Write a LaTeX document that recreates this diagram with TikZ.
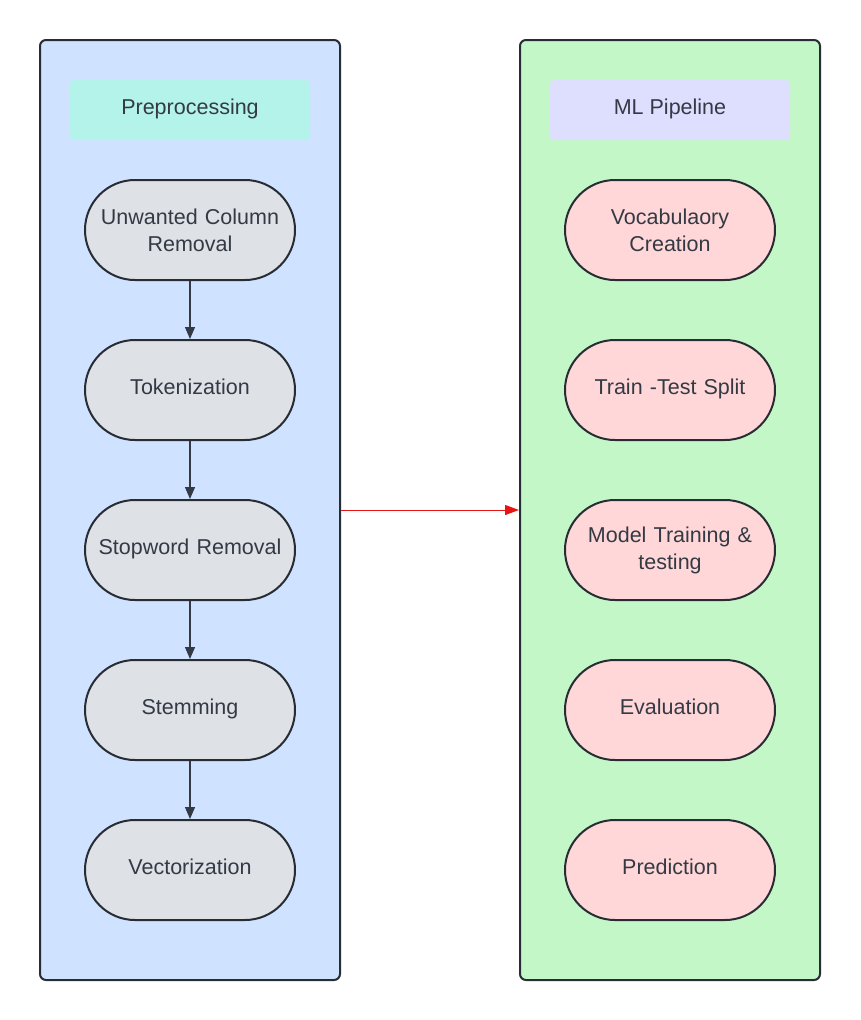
\documentclass[tikz,border=0pt]{standalone}
\usepackage{fontspec}
\setmainfont{Liberation Sans}
\usetikzlibrary{arrows.meta}
\definecolor{edgegray}{HTML}{282C33}
\definecolor{textgray}{HTML}{333A44}
\definecolor{prepblue}{HTML}{CFE2FF}
\definecolor{mlgreen}{HTML}{C3F7C8}
\definecolor{headteal}{HTML}{B4F3EA}
\definecolor{headlilac}{HTML}{DEDEFF}
\definecolor{stepgray}{HTML}{DEE1E6}
\definecolor{steppink}{HTML}{FFD7D8}
\definecolor{linkred}{HTML}{E81313}
\begin{document}
\begin{tikzpicture}[x=1pt, y=-1pt,
    container/.style={draw=edgegray, line width=2pt, rounded corners=6pt,
        minimum width=300pt, minimum height=940pt, inner sep=0pt},
    header/.style={rounded corners=4pt, minimum width=240pt, minimum height=60pt,
        text=textgray, font=\fontsize{21.5}{27}\selectfont,
        text height=12pt, text depth=4pt},
    stage/.style={draw=edgegray, line width=2pt, rounded corners=50pt,
        minimum width=210pt, minimum height=100pt, text width=200pt, align=center,
        text=textgray, font=\fontsize{21.5}{27}\selectfont},
    oneline/.style={text height=12pt, text depth=4pt},
    flow/.style={-{Triangle[length=12pt,width=10pt]}, draw=textgray, line width=1.3pt}]
    \useasboundingbox (0,0) rectangle (860,1020);

    % the two containers
    \node[container, fill=prepblue] (prepbox) at (190,510) {};
    \node[container, fill=mlgreen] (mlbox) at (670,510) {};

    % headers
    \node[header, fill=headteal] (prephead) at (190,110) {Preprocessing};
    \node[header, fill=headlilac] (mlhead) at (670,110) {ML Pipeline};

    % preprocessing steps
    \node[stage, fill=stepgray] (unwanted) at (190,230) {Unwanted Column\\Removal};
    \node[stage, oneline, fill=stepgray] (token) at (190,390) {Tokenization};
    \node[stage, oneline, fill=stepgray] (stopword) at (190,550) {Stopword Removal};
    \node[stage, oneline, fill=stepgray] (stem) at (190,710) {Stemming};
    \node[stage, oneline, fill=stepgray] (vector) at (190,870) {Vectorization};

    % ml pipeline steps
    \node[stage, fill=steppink] (vocab) at (670,230) {Vocabulaory\\Creation};
    \node[stage, oneline, fill=steppink] (split) at (670,390) {Train -Test Split};
    \node[stage, fill=steppink] (train) at (670,550) {Model Training \&\\testing};
    \node[stage, oneline, fill=steppink] (eval) at (670,710) {Evaluation};
    \node[stage, oneline, fill=steppink] (predict) at (670,870) {Prediction};

    % arrows down the left column
    \draw[flow] (unwanted) -- (token);
    \draw[flow] (token) -- (stopword);
    \draw[flow] (stopword) -- (stem);
    \draw[flow] (stem) -- (vector);

    % link between the columns
    \draw[-{Triangle[length=14pt,width=10pt]}, draw=linkred, fill=linkred, line width=1pt]
        (prepbox.east) -- (mlbox.west);
\end{tikzpicture}
\end{document}
